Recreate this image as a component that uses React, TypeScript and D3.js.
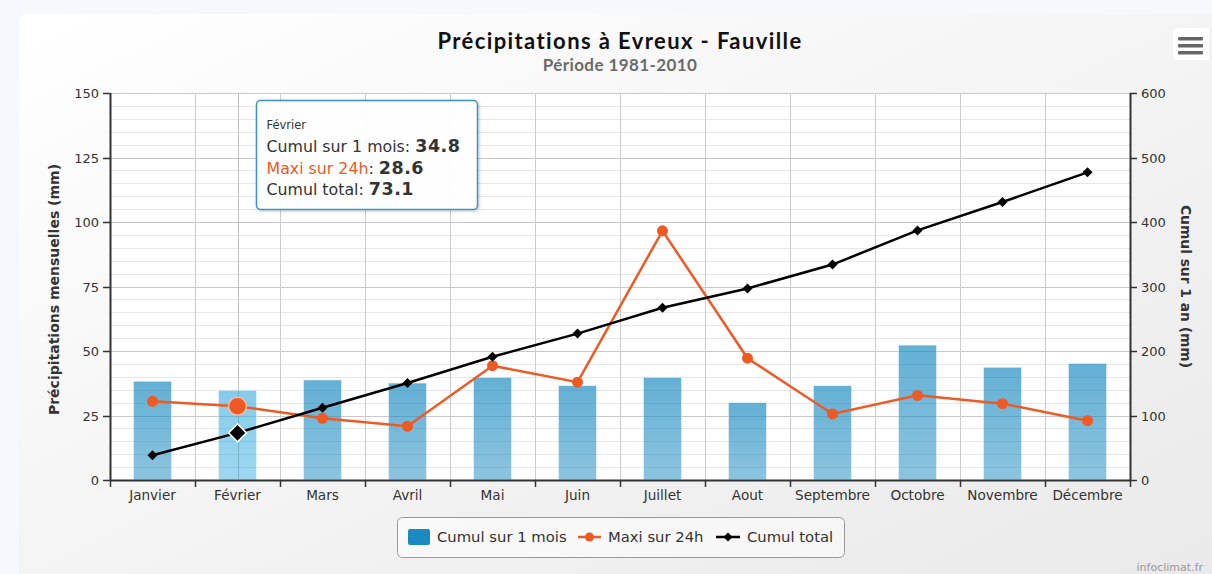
import React, { useEffect, useRef } from 'react';
import * as d3 from 'd3';

// Données (Evreux - Fauville, 1981-2010)
const months = ['Janvier', 'Février', 'Mars', 'Avril', 'Mai', 'Juin', 'Juillet', 'Aout', 'Septembre', 'Octobre', 'Novembre', 'Décembre'];
const cumulMois = [38.3, 34.8, 38.8, 37.6, 39.8, 36.6, 39.8, 30.0, 36.6, 52.3, 43.7, 45.2];
const maxi24h = [30.5, 28.6, 23.9, 20.8, 44.3, 37.9, 96.6, 47.2, 25.6, 32.8, 29.6, 23.0];
const cumulTotal = [38.3, 73.1, 112, 150.5, 191, 227, 267, 297, 334, 387, 431, 477];
const leftTicks = [0, 25, 50, 75, 100, 125, 150];
const rightTicks = [0, 100, 200, 300, 400, 500, 600];

const W = 1212;
const H = 574;
const HOVER = 1; // Février survolé

const FONT = '"DejaVu Sans", sans-serif';
const TITLE_FONT = 'Lato, sans-serif';

export default function App() {
  const svgRef = useRef<SVGSVGElement>(null);

  useEffect(() => {
    const svg = d3.select(svgRef.current);
    svg.selectAll('*').remove();

    const margin = { top: 93, right: 82, bottom: 94, left: 110 };
    const x0 = margin.left, x1 = W - margin.right;
    const y0 = H - margin.bottom, y1 = margin.top;

    const x = d3.scaleBand<string>().domain(months).range([x0, x1]).padding(0);
    const yL = d3.scaleLinear().domain([0, 150]).range([y0, y1]);
    const yR = d3.scaleLinear().domain([0, 600]).range([y0, y1]);
    const cx = (i: number) => (x(months[i]) as number) + x.bandwidth() / 2;

    const defs = svg.append('defs');
    const bg = defs.append('linearGradient').attr('id', 'bg')
      .attr('x1', 0).attr('y1', 0).attr('x2', 1).attr('y2', 1);
    bg.append('stop').attr('offset', '0%').attr('stop-color', '#ffffff');
    bg.append('stop').attr('offset', '100%').attr('stop-color', '#e9e9e9');

    const barGrad = defs.append('linearGradient').attr('id', 'bar')
      .attr('x1', 0).attr('y1', 0).attr('x2', 0).attr('y2', 1);
    barGrad.append('stop').attr('offset', '0%').attr('stop-color', '#1a8ac0').attr('stop-opacity', 0.68);
    barGrad.append('stop').attr('offset', '100%').attr('stop-color', '#1a8ac0').attr('stop-opacity', 0.5);

    const barHover = defs.append('linearGradient').attr('id', 'barHover')
      .attr('x1', 0).attr('y1', 0).attr('x2', 0).attr('y2', 1);
    barHover.append('stop').attr('offset', '0%').attr('stop-color', '#2aa6dc').attr('stop-opacity', 0.58);
    barHover.append('stop').attr('offset', '100%').attr('stop-color', '#2aa6dc').attr('stop-opacity', 0.45);

    const shadow = defs.append('filter').attr('id', 'shadow').attr('x', '-10%').attr('y', '-10%')
      .attr('width', '130%').attr('height', '140%');
    shadow.append('feDropShadow').attr('dx', 1).attr('dy', 1).attr('stdDeviation', 1.5)
      .attr('flood-color', '#000').attr('flood-opacity', 0.25);

    // Fond
    svg.append('rect').attr('width', W).attr('height', H).attr('fill', '#f6f8fb');
    svg.append('rect').attr('x', 19).attr('y', 14).attr('width', W).attr('height', H)
      .attr('rx', 8).attr('fill', 'url(#bg)');
    svg.append('rect').attr('x', x0).attr('y', y1).attr('width', x1 - x0).attr('height', y0 - y1)
      .attr('fill', '#ffffff');

    // Titres
    svg.append('text').attr('x', 620).attr('y', 49).attr('text-anchor', 'middle')
      .attr('font-family', TITLE_FONT).attr('font-weight', 'bold').attr('font-size', 22)
      .attr('letter-spacing', 1.4).attr('fill', '#111').text('Précipitations à Evreux - Fauville');
    svg.append('text').attr('x', 620).attr('y', 71).attr('text-anchor', 'middle')
      .attr('font-family', TITLE_FONT).attr('font-weight', 'bold').attr('font-size', 17)
      .attr('letter-spacing', 0.4).attr('fill', '#6a6a6a').text('Période 1981-2010');

    // Grille horizontale (mineure tous les 5 mm, majeure tous les 25 mm)
    const minor = d3.range(0, 151, 5).filter(v => v % 25 !== 0);
    svg.append('g').selectAll('line').data(minor).enter().append('line')
      .attr('x1', x0).attr('x2', x1)
      .attr('y1', d => Math.round(yL(d)) + 0.5).attr('y2', d => Math.round(yL(d)) + 0.5)
      .attr('stroke', '#e6e6e6');
    svg.append('g').selectAll('line').data(leftTicks).enter().append('line')
      .attr('x1', x0).attr('x2', x1)
      .attr('y1', d => Math.round(yL(d)) + 0.5).attr('y2', d => Math.round(yL(d)) + 0.5)
      .attr('stroke', '#c8c8c8');

    // Grille verticale aux limites de catégories
    const bounds = d3.range(1, months.length).map(i => x0 + i * x.bandwidth());
    svg.append('g').selectAll('line').data(bounds).enter().append('line')
      .attr('x1', d => Math.round(d) + 0.5).attr('x2', d => Math.round(d) + 0.5)
      .attr('y1', y1).attr('y2', y0).attr('stroke', '#cccccc');

    // Réticule sur Février
    svg.append('line').attr('x1', Math.round(cx(HOVER)) + 0.5).attr('x2', Math.round(cx(HOVER)) + 0.5)
      .attr('y1', y1).attr('y2', y0).attr('stroke', '#c0c0c0');

    // Barres
    const bw = x.bandwidth() * 0.45;
    svg.append('g').selectAll('rect').data(cumulMois).enter().append('rect')
      .attr('x', (d, i) => cx(i) - bw / 2)
      .attr('y', d => yL(d))
      .attr('width', bw)
      .attr('height', d => y0 - yL(d))
      .attr('fill', (d, i) => i === HOVER ? 'url(#barHover)' : 'url(#bar)')
      .attr('stroke', '#ffffff').attr('stroke-opacity', 0.6).attr('stroke-width', 1);

    // Maxi sur 24h
    const orange = '#ee5a24';
    const lineL = d3.line<number>().x((d, i) => cx(i)).y(d => yL(d));
    svg.append('path').datum(maxi24h).attr('d', lineL).attr('fill', 'none')
      .attr('stroke', orange).attr('stroke-width', 2.5);
    svg.append('g').selectAll('circle').data(maxi24h).enter().append('circle')
      .attr('cx', (d, i) => cx(i)).attr('cy', d => yL(d))
      .attr('r', (d, i) => i === HOVER ? 9 : 5.5)
      .attr('fill', orange)
      .attr('stroke', (d, i) => i === HOVER ? '#f7b9a0' : 'none').attr('stroke-width', 1.5);

    // Cumul total
    const lineR = d3.line<number>().x((d, i) => cx(i)).y(d => yR(d));
    svg.append('path').datum(cumulTotal).attr('d', lineR).attr('fill', 'none')
      .attr('stroke', '#000').attr('stroke-width', 2.5);
    const diamond = (r: number) => `M0,${-r}L${r},0L0,${r}L${-r},0Z`;
    svg.append('g').selectAll('path').data(cumulTotal).enter().append('path')
      .attr('transform', (d, i) => `translate(${cx(i)},${yR(d)})`)
      .attr('d', (d, i) => diamond(i === HOVER ? 9 : 5))
      .attr('fill', '#000')
      .attr('stroke', (d, i) => i === HOVER ? '#fff' : 'none').attr('stroke-width', 1.5);

    // Axes
    const axisColor = '#333';
    const labelColor = '#333';
    svg.append('line').attr('x1', x0 + 0.5).attr('x2', x0 + 0.5).attr('y1', y1).attr('y2', y0 + 1)
      .attr('stroke', axisColor).attr('stroke-width', 2);
    svg.append('line').attr('x1', x1 + 0.5).attr('x2', x1 + 0.5).attr('y1', y1).attr('y2', y0 + 1)
      .attr('stroke', axisColor).attr('stroke-width', 2);
    svg.append('line').attr('x1', x0).attr('x2', x1 + 1).attr('y1', y0 + 0.5).attr('y2', y0 + 0.5)
      .attr('stroke', axisColor).attr('stroke-width', 2);

    const gl = svg.append('g');
    leftTicks.forEach(t => {
      const yy = Math.round(yL(t)) + 0.5;
      gl.append('line').attr('x1', x0 - 7).attr('x2', x0).attr('y1', yy).attr('y2', yy)
        .attr('stroke', axisColor).attr('stroke-width', 1.5);
      gl.append('text').attr('x', x0 - 11).attr('y', yy).attr('dy', '0.35em')
        .attr('text-anchor', 'end').attr('font-family', FONT).attr('font-size', 13)
        .attr('fill', labelColor).text(t);
    });
    const gr = svg.append('g');
    rightTicks.forEach(t => {
      const yy = Math.round(yR(t)) + 0.5;
      gr.append('line').attr('x1', x1).attr('x2', x1 + 7).attr('y1', yy).attr('y2', yy)
        .attr('stroke', axisColor).attr('stroke-width', 1.5);
      gr.append('text').attr('x', x1 + 11).attr('y', yy).attr('dy', '0.35em')
        .attr('text-anchor', 'start').attr('font-family', FONT).attr('font-size', 13)
        .attr('fill', labelColor).text(t);
    });
    const gb = svg.append('g');
    [x0, ...bounds, x1].forEach(b => {
      gb.append('line').attr('x1', Math.round(b) + 0.5).attr('x2', Math.round(b) + 0.5)
        .attr('y1', y0).attr('y2', y0 + 7).attr('stroke', axisColor).attr('stroke-width', 1.5);
    });
    months.forEach((m, i) => {
      gb.append('text').attr('x', cx(i)).attr('y', y0 + 20).attr('text-anchor', 'middle')
        .attr('font-family', FONT).attr('font-size', 13.6).attr('fill', labelColor).text(m);
    });

    // Titres des axes
    svg.append('text').attr('transform', `translate(59,${(y0 + y1) / 2 + 3}) rotate(-90)`)
      .attr('text-anchor', 'middle').attr('font-family', FONT).attr('font-weight', 'bold')
      .attr('font-size', 14).attr('fill', '#333').text('Précipitations mensuelles (mm)');
    svg.append('text').attr('transform', `translate(1181,${(y0 + y1) / 2}) rotate(90)`)
      .attr('text-anchor', 'middle').attr('font-family', FONT).attr('font-weight', 'bold')
      .attr('font-size', 13.8).attr('fill', '#333').text('Cumul sur 1 an (mm)');

    // Légende
    const lg = svg.append('g');
    lg.append('rect').attr('x', 397.5).attr('y', 517.5).attr('width', 447).attr('height', 40)
      .attr('rx', 5).attr('fill', '#ffffff').attr('fill-opacity', 0.5)
      .attr('stroke', '#9a9a9a');
    lg.append('rect').attr('x', 408).attr('y', 529).attr('width', 22).attr('height', 16).attr('rx', 2)
      .attr('fill', '#1a8ac0');
    const legText = { family: FONT, size: 14.8 };
    lg.append('text').attr('x', 437).attr('y', 537).attr('dy', '0.35em').attr('font-family', legText.family)
      .attr('font-size', legText.size).attr('fill', '#333').text('Cumul sur 1 mois');
    lg.append('line').attr('x1', 578).attr('x2', 601).attr('y1', 537).attr('y2', 537)
      .attr('stroke', orange).attr('stroke-width', 2.5);
    lg.append('circle').attr('cx', 589.5).attr('cy', 537).attr('r', 4.5).attr('fill', orange);
    lg.append('text').attr('x', 608).attr('y', 537).attr('dy', '0.35em').attr('font-family', legText.family)
      .attr('font-size', legText.size).attr('fill', '#333').text('Maxi sur 24h');
    lg.append('line').attr('x1', 716).attr('x2', 740).attr('y1', 537).attr('y2', 537)
      .attr('stroke', '#000').attr('stroke-width', 2.5);
    lg.append('path').attr('transform', 'translate(728,537)').attr('d', diamond(4.5)).attr('fill', '#000');
    lg.append('text').attr('x', 747).attr('y', 537).attr('dy', '0.35em').attr('font-family', legText.family)
      .attr('font-size', legText.size).attr('fill', '#333').text('Cumul total');

    // Crédit
    svg.append('text').attr('x', 1203).attr('y', 571).attr('text-anchor', 'end')
      .attr('font-family', FONT).attr('font-size', 11).attr('fill', '#999').text('infoclimat.fr');

    // Bouton menu
    const mb = svg.append('g');
    mb.append('rect').attr('x', 1173).attr('y', 28).attr('width', 36).attr('height', 32).attr('rx', 3)
      .attr('fill', '#ffffff');
    [37, 44, 51].forEach(yy => {
      mb.append('rect').attr('x', 1178).attr('y', yy).attr('width', 25).attr('height', 3.5).attr('rx', 1)
        .attr('fill', '#666');
    });

    // Infobulle
    const tt = svg.append('g').attr('transform', 'translate(256.5,100.5)');
    tt.append('rect').attr('width', 221).attr('height', 109).attr('rx', 4)
      .attr('fill', '#ffffff').attr('fill-opacity', 0.95)
      .attr('stroke', '#3d93c4').attr('stroke-width', 1.5).attr('filter', 'url(#shadow)');
    tt.append('text').attr('x', 10).attr('y', 28).attr('font-family', FONT).attr('font-size', 11.5)
      .attr('fill', '#333').text(months[HOVER]);
    const rows = [
      { label: 'Cumul sur 1 mois', value: cumulMois[HOVER], color: '#333' },
      { label: 'Maxi sur 24h', value: maxi24h[HOVER], color: orange },
      { label: 'Cumul total', value: cumulTotal[HOVER], color: '#333' },
    ];
    rows.forEach((r, i) => {
      const t = tt.append('text').attr('x', 10).attr('y', 51.5 + i * 21.5)
        .attr('font-family', FONT).attr('font-size', 15.8);
      t.append('tspan').attr('fill', r.color).text(r.label);
      t.append('tspan').attr('fill', '#333').text(': ');
      t.append('tspan').attr('fill', '#333').attr('font-weight', 'bold').attr('font-size', 17.5)
        .attr('letter-spacing', 0.5).text(r.value.toFixed(1));
    });
  }, []);

  return (
    <svg ref={svgRef} width={W} height={H}
         style={{ position: 'absolute', left: 0, top: 0, display: 'block' }} />
  );
}
